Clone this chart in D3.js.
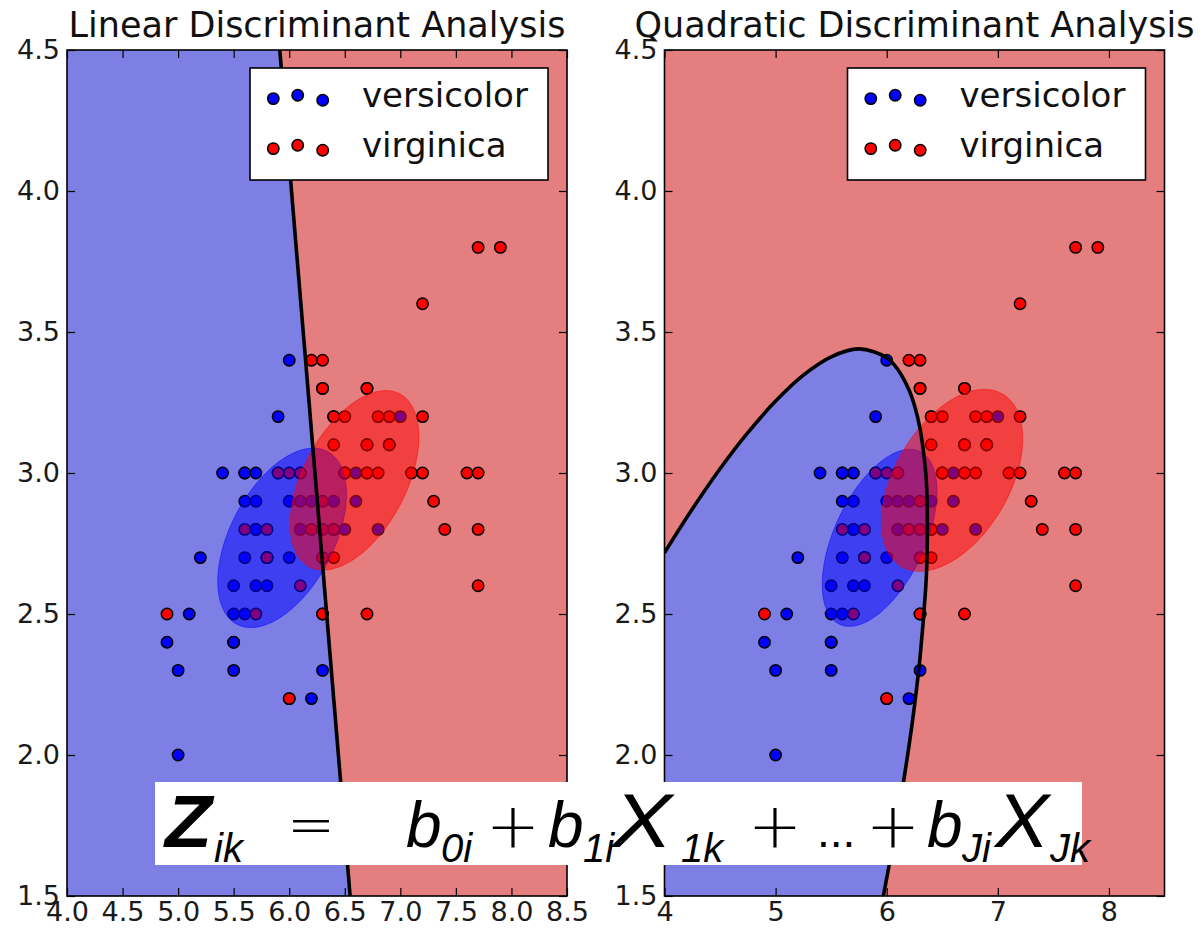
<!DOCTYPE html>
<html>
<head>
<meta charset="utf-8">
<script src="https://cdn.jsdelivr.net/npm/d3@7"></script>
<style>
  body { margin: 0; background: #fff; }
  svg { display: block; }
  .tick text { font-family: "DejaVu Sans", sans-serif; fill: #1a1a1a; }
</style>
</head>
<body>
<div id="chart"></div>
<script>
// iris sepal length / sepal width, two classes
var versicolorLength = [7.0,6.4,6.9,5.5,6.5,5.7,6.3,4.9,6.6,5.2,5.0,5.9,6.0,6.1,5.6,6.7,5.6,5.8,6.2,5.6,5.9,6.1,6.3,6.1,6.4,6.6,6.8,6.7,6.0,5.7,5.5,5.5,5.8,6.0,5.4,6.0,6.7,6.3,5.6,5.5,5.5,6.1,5.8,5.0,5.6,5.7,5.7,6.2,5.1,5.7];
var versicolorWidth  = [3.2,3.2,3.1,2.3,2.8,2.8,3.3,2.4,2.9,2.7,2.0,3.0,2.2,2.9,2.9,3.1,3.0,2.7,2.2,2.5,3.2,2.8,2.5,2.8,2.9,3.0,2.8,3.0,2.9,2.6,2.4,2.4,2.7,2.7,3.0,3.4,3.1,2.3,3.0,2.5,2.6,3.0,2.6,2.3,2.7,3.0,2.9,2.9,2.5,2.8];
var virginicaLength  = [6.3,5.8,7.1,6.3,6.5,7.6,4.9,7.3,6.7,7.2,6.5,6.4,6.8,5.7,5.8,6.4,6.5,7.7,7.7,6.0,6.9,5.6,7.7,6.3,6.7,7.2,6.2,6.1,6.4,7.2,7.4,7.9,6.4,6.3,6.1,7.7,6.3,6.4,6.0,6.9,6.7,6.9,5.8,6.8,6.7,6.7,6.3,6.5,6.2,5.9];
var virginicaWidth   = [3.3,2.7,3.0,2.9,3.0,3.0,2.5,2.9,2.5,3.6,3.2,2.7,3.0,2.5,2.8,3.2,3.0,3.8,2.6,2.2,3.2,2.8,2.8,2.7,3.3,3.2,2.8,3.0,2.8,3.0,2.8,3.8,2.8,2.8,2.6,3.0,3.4,3.1,3.0,3.1,3.1,3.1,2.7,3.2,3.3,3.0,2.5,3.0,3.4,3.0];

var classNames = ["versicolor", "virginica"];
var panelTitles = ["Linear Discriminant Analysis", "Quadratic Discriminant Analysis"];

// tick labels
var yTicks = [1.5, 2.0, 2.5, 3.0, 3.5, 4.0, 4.5];
var xTicksLinear = [4.0, 4.5, 5.0, 5.5, 6.0, 6.5, 7.0, 7.5, 8.0, 8.5];
var xTicksQuadratic = [4, 5, 6, 7, 8];

// class means (sepal length, sepal width)
var meanVersicolor = [5.936, 2.770];
var meanVirginica = [6.588, 2.974];
// covariances [var length, cov, var width]
var covShared = [0.3354, 0.0895, 0.1012];
var covVersicolor = [0.2664, 0.0852, 0.0985];
var covVirginica = [0.4043, 0.0938, 0.1040];

// decision boundaries
var ldaBoundaryLength = [5.915, 6.548];
var ldaBoundaryWidth = [4.5, 1.5];
var qdaBoundaryLength = [4.0, 4.25, 4.5, 4.75, 5.0, 5.25, 5.5, 5.75, 6.0, 6.1, 6.2, 6.25, 6.3, 6.35, 6.36, 6.366, 6.36, 6.35, 6.3, 6.25, 6.2, 6.1, 5.97];
var qdaBoundaryWidth  = [2.717, 2.872, 3.015, 3.143, 3.255, 3.347, 3.412, 3.440, 3.409, 3.367, 3.295, 3.239, 3.157, 3.006, 2.945, 2.80, 2.665, 2.587, 2.347, 2.175, 2.031, 1.781, 1.500];

var blueBg = "rgb(126,127,229)", redBg = "rgb(229,126,126)";

var W = 1202, H = 930;
var svg = d3.select("#chart").append("svg")
  .attr("width", W)
  .attr("height", H);

function zipPts(xs, ys) {
  return xs.map(function (v, i) { return [v, ys[i]]; });
}

function ellipsePath(x, y, mean, cov) {
  // one-sigma ellipse: unit circle through the cholesky factor
  var l11 = Math.sqrt(cov[0]), l21 = cov[1] / l11, l22 = Math.sqrt(cov[2] - l21 * l21);
  var pts = d3.range(0, 120).map(function (i) {
    var t = i / 120 * 2 * Math.PI;
    var c = Math.cos(t), s = Math.sin(t);
    return [x(mean[0] + l11 * c), y(mean[1] + l21 * c + l22 * s)];
  });
  return d3.line().curve(d3.curveLinearClosed)(pts);
}

function Panel(idx, left, xTicks, fmt, isQuad) {
  var top = 50, bottom = 896, width = 500;
  var x = d3.scaleLinear().domain([4, 8.5]).range([left, left + width]);
  var y = d3.scaleLinear().domain([1.5, 4.5]).range([bottom, top]);

  var clipId = "clip" + idx;
  svg.append("clipPath").attr("id", clipId)
    .append("rect")
    .attr("x", left).attr("y", top)
    .attr("width", width).attr("height", bottom - top);

  var g = svg.append("g").attr("clip-path", "url(#" + clipId + ")");

  g.append("rect")
    .attr("x", left).attr("y", top)
    .attr("width", width).attr("height", bottom - top)
    .attr("fill", redBg);

  var line = d3.line().x(function (d) { return x(d[0]); }).y(function (d) { return y(d[1]); });
  var boundaryPath;
  if (isQuad) {
    boundaryPath = d3.line()
      .x(function (d) { return x(d[0]); })
      .y(function (d) { return y(d[1]); })
      .curve(d3.curveCatmullRom.alpha(0.5))(zipPts(qdaBoundaryLength, qdaBoundaryWidth));
    g.append("path")
      .attr("d", boundaryPath + "L" + x(4) + "," + y(1.5) + "Z")
      .attr("fill", blueBg);
  } else {
    var b = zipPts(ldaBoundaryLength, ldaBoundaryWidth);
    boundaryPath = line(b);
    g.append("path")
      .attr("d", line([[4, 4.5], b[0], b[1], [4, 1.5]]) + "Z")
      .attr("fill", blueBg);
  }

  // points
  g.selectAll(".pv").data(zipPts(versicolorLength, versicolorWidth))
    .enter().append("circle")
    .attr("cx", function (d) { return x(d[0]); })
    .attr("cy", function (d) { return y(d[1]); })
    .attr("r", 5.7)
    .attr("fill", "#0000ff").attr("stroke", "#000").attr("stroke-width", 1.5);
  g.selectAll(".pr").data(zipPts(virginicaLength, virginicaWidth))
    .enter().append("circle")
    .attr("cx", function (d) { return x(d[0]); })
    .attr("cy", function (d) { return y(d[1]); })
    .attr("r", 5.7)
    .attr("fill", "#ff0000").attr("stroke", "#000").attr("stroke-width", 1.5);

  // covariance ellipses
  var cv0 = isQuad ? covVersicolor : covShared;
  var cv1 = isQuad ? covVirginica : covShared;
  g.append("path").attr("d", ellipsePath(x, y, meanVersicolor, cv0))
    .attr("fill", "#0000ff").attr("fill-opacity", 0.5)
    .attr("stroke", "#0000ff").attr("stroke-opacity", 0.5).attr("stroke-width", 1);
  g.append("path").attr("d", ellipsePath(x, y, meanVirginica, cv1))
    .attr("fill", "#ff0000").attr("fill-opacity", 0.5)
    .attr("stroke", "#ff0000").attr("stroke-opacity", 0.5).attr("stroke-width", 1);

  // decision boundary
  g.append("path").attr("d", boundaryPath)
    .attr("fill", "none").attr("stroke", "#000").attr("stroke-width", 3.6)
    .attr("stroke-linejoin", "round");

  // axes, ticks inward on every side
  var fs = "27px";
  var ax = svg.append("g").attr("transform", "translate(0," + bottom + ")")
    .call(d3.axisBottom(x).tickValues(xTicks).tickFormat(d3.format(fmt)).tickSize(-8).tickPadding(6));
  ax.selectAll("text").style("font-size", fs);
  svg.append("g").attr("transform", "translate(0," + top + ")")
    .call(d3.axisTop(x).tickValues(xTicks).tickFormat("").tickSize(-8));
  var ay = svg.append("g").attr("transform", "translate(" + left + ",0)")
    .call(d3.axisLeft(y).tickValues(yTicks).tickFormat(d3.format(".1f")).tickSize(-8).tickPadding(7));
  ay.selectAll("text").style("font-size", fs);
  svg.append("g").attr("transform", "translate(" + (left + width) + ",0)")
    .call(d3.axisRight(y).tickValues(yTicks).tickFormat("").tickSize(-8));
  svg.selectAll(".domain").remove();
  svg.selectAll(".tick line").attr("stroke", "#000").attr("stroke-width", 1.2);

  svg.append("rect")
    .attr("x", left).attr("y", top)
    .attr("width", width).attr("height", bottom - top)
    .attr("fill", "none").attr("stroke", "#000").attr("stroke-width", 1.6);

  svg.append("text")
    .attr("x", left + width / 2).attr("y", 37)
    .attr("text-anchor", "middle")
    .style("font-family", "DejaVu Sans, sans-serif")
    .style("font-size", "35px")
    .attr("fill", "#111")
    .text(panelTitles[idx]);

  // legend
  var lx = left + width - 317, ly = 68;
  var leg = svg.append("g");
  leg.append("rect")
    .attr("x", lx).attr("y", ly).attr("width", 298).attr("height", 112)
    .attr("fill", "#fff").attr("stroke", "#000").attr("stroke-width", 1.6);
  var dotDx = [23.3, 47.7, 72.7], dotDy = [-8.4, -11.7, -6.7];
  [["#0000ff", 107], ["#ff0000", 157]].forEach(function (row, k) {
    dotDx.forEach(function (dx, j) {
      leg.append("circle")
        .attr("cx", lx + dx).attr("cy", row[1] + dotDy[j])
        .attr("r", 5.7)
        .attr("fill", row[0]).attr("stroke", "#000").attr("stroke-width", 1.5);
    });
    leg.append("text")
      .attr("x", lx + 112).attr("y", row[1])
      .style("font-family", "DejaVu Sans, sans-serif")
      .style("font-size", "34px")
      .attr("fill", "#111")
      .text(classNames[k]);
  });
}

Panel(0, 67, xTicksLinear, ".1f", false);
Panel(1, 664.5, xTicksQuadratic, "d", true);

// formula banner
svg.append("rect")
  .attr("x", 155).attr("y", 782).attr("width", 927).attr("height", 83)
  .attr("fill", "#fff");

var fm = svg.append("g").attr("fill", "#000");
// text, x, baseline, size, style, weight, family, stretched width
var sans = "'Liberation Sans', Arial, sans-serif";
var thin = "'DejaVu Sans', sans-serif";
var pieces = [
  ["Z", 165, 847, 74, "italic", "bold", sans, 47],
  ["ik", 214, 862, 40, "italic", "normal", sans, 0],
  ["=", 287, 845, 60, "normal", "200", thin, 48],
  ["b", 406, 847, 64, "italic", "normal", sans, 0],
  ["0i", 441, 862, 40, "italic", "normal", sans, 0],
  ["+", 486, 847, 62, "normal", "200", thin, 54],
  ["b", 548, 847, 64, "italic", "normal", sans, 0],
  ["1i", 583, 862, 40, "italic", "normal", sans, 0],
  ["X", 612, 847, 76, "italic", "normal", sans, 60],
  ["1k", 681, 862, 40, "italic", "normal", sans, 0],
  ["+", 748, 847, 62, "normal", "200", thin, 54],
  ["...", 817, 847, 46, "normal", "normal", sans, 0],
  ["+", 866, 847, 62, "normal", "200", thin, 54],
  ["b", 927, 847, 64, "italic", "normal", sans, 0],
  ["Ji", 962, 862, 40, "italic", "normal", sans, 0],
  ["X", 995, 847, 76, "italic", "normal", sans, 54],
  ["Jk", 1050, 862, 40, "italic", "normal", sans, 0]
];
pieces.forEach(function (p) {
  var t = fm.append("text")
    .attr("x", p[1]).attr("y", p[2])
    .style("font-family", p[6])
    .style("font-size", p[3] + "px")
    .style("font-style", p[4])
    .style("font-weight", p[5])
    .text(p[0]);
  if (p[7]) t.attr("textLength", p[7]).attr("lengthAdjust", "spacingAndGlyphs");
});
</script>
</body>
</html>
